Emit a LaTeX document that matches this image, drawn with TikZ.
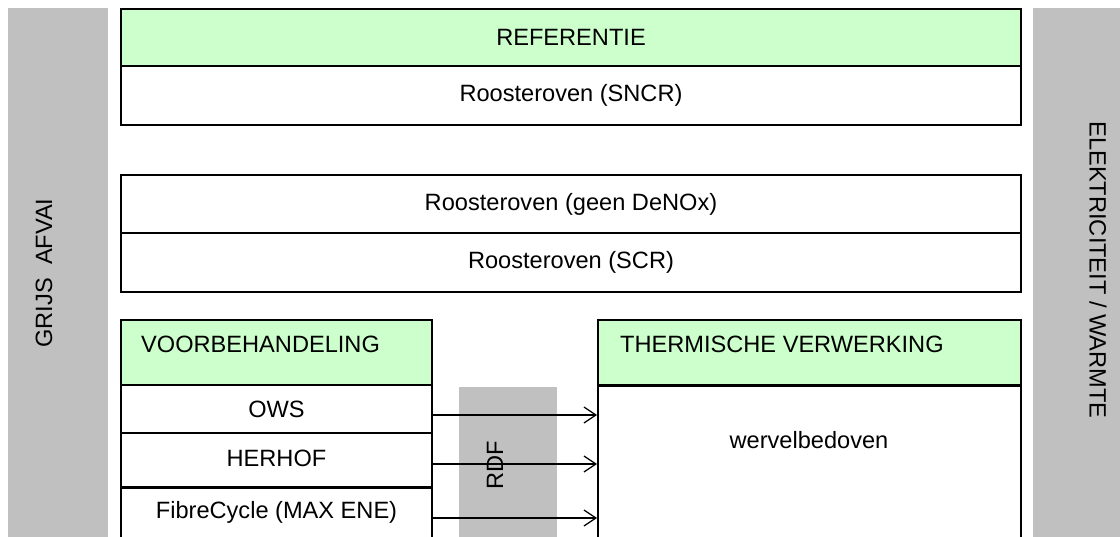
\documentclass[tikz,border=0pt]{standalone}
\usepackage{fontspec}
\setmainfont{Liberation Sans}
\usetikzlibrary{arrows.meta}
\definecolor{lgreen}{HTML}{CCFFCC}
\definecolor{lgray}{HTML}{C0C0C0}
\begin{document}
\begin{tikzpicture}[x=1pt,y=-1pt,
  every node/.style={font=\fontsize{23.6}{28}\selectfont},
  box/.style={draw=black, line width=1.8pt, rectangle, inner sep=0pt, anchor=center},
  hbox/.style={box, fill=lgreen},
  wbox/.style={box, fill=white},
  side/.style={fill=lgray, draw=none, rectangle, inner sep=0pt},
  arr/.style={line width=1.3pt, -{Straight Barb[length=12pt,width=16pt,line width=1.3pt]}},
  lbl/.style={inner sep=0pt}]
\useasboundingbox (0,0) rectangle (1120,537);
\clip (0,0) rectangle (1120,537);
\fill[white] (0,0) rectangle (1120,537);
% side bars
\node[side, minimum width=100pt, minimum height=560pt, anchor=north west] (left) at (8,8) {};
\node[side, minimum width=100pt, minimum height=560pt, anchor=north west] (right) at (1033,8) {};
\node[lbl, rotate=90] (grijs) at (44,273) {GRIJS\ \ AFVAI};
\node[lbl, rotate=-90] (elek) at (1098,270) {ELEKTRICITEIT / WARMTE};
% RDF band
\node[side, minimum width=98pt, minimum height=170pt, anchor=north west] (rdf) at (459,387) {};
\node[lbl, rotate=90] (rdft) at (495,465) {RDF};
% referentie
\node[hbox, minimum width=900pt, minimum height=57pt] (ref) at (571,37.5) {REFERENTIE};
\node[wbox, minimum width=900pt, minimum height=59pt] (sncr) at (571,95.5) {Roosteroven (SNCR)};
% rooster
\node[wbox, minimum width=900pt, minimum height=58pt] (geen) at (571,204) {Roosteroven (geen DeNOx)};
\node[wbox, minimum width=900pt, minimum height=59pt] (scr) at (571,262.5) {Roosteroven (SCR)};
% voorbehandeling
\node[hbox, minimum width=311pt, minimum height=65pt] (voor) at (276.5,352.5) {};
\node[lbl, anchor=base west] (voort) at (141,353) {VOORBEHANDELING};
\node[wbox, minimum width=311pt, minimum height=48pt] (ows) at (276.5,409) {OWS};
\node[wbox, minimum width=311pt, minimum height=54pt] (herhof) at (276.5,460) {};
\node[lbl] (herhoft) at (276.5,458) {HERHOF};
\node[wbox, minimum width=311pt, minimum height=70pt, anchor=north] (fibre) at (276.5,487) {};
\node[lbl] (fibret) at (276.5,512) {FibreCycle (MAX ENE)};
% thermische verwerking
\node[hbox, minimum width=423pt, minimum height=65pt] (therm) at (809.5,352.5) {};
\node[lbl, anchor=base west] (thermt) at (620,353) {THERMISCHE VERWERKING};
\node[wbox, minimum width=423pt, minimum height=170pt, anchor=north] (wervel) at (809.5,385) {};
\node[lbl] (wervelt) at (809,440) {wervelbedoven};
% arrows
\coordinate (a1) at (432,415);
\coordinate (a2) at (432,464);
\coordinate (a3) at (432,518);
\draw[arr] (a1) -- (a1 -| wervel.west);
\draw[arr] (a2) -- (a2 -| wervel.west);
\draw[arr] (a3) -- (a3 -| wervel.west);
\end{tikzpicture}
\end{document}
